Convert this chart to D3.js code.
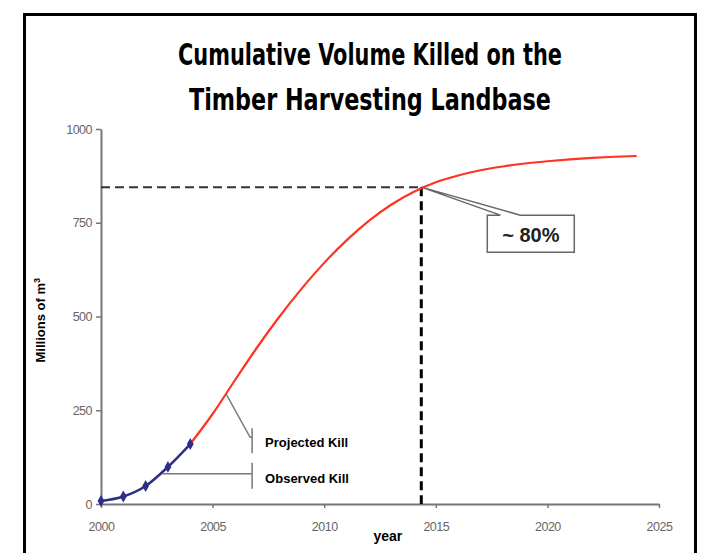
<!DOCTYPE html>
<html>
<head>
<meta charset="utf-8">
<script src="https://cdn.jsdelivr.net/npm/d3@7"></script>
<style>
    html, body { margin: 0; padding: 0; background: #fff; }
    svg { display: block; }
</style>
</head>
<body>
<div id="chart"></div>
<script>
/*global d3: false */

//chart data
var titleLines = ['Cumulative Volume Killed on the', 'Timber Harvesting Landbase'];
var observedYears = [2000, 2001, 2002, 2003, 2004];
var observedValues = [8, 20, 48, 99, 160];
var projectedYears = [2004, 2005, 2006, 2007, 2008, 2009, 2010, 2011, 2012, 2013, 2014,
    2015, 2016, 2017, 2018, 2019, 2020, 2021, 2022, 2023, 2024];
var projectedValues = [160, 240, 330, 418, 500, 575, 643, 703, 755, 798, 832,
    858, 876, 890, 900, 908, 914, 919, 923, 926, 928];
var xTicks = [2000, 2005, 2010, 2015, 2020, 2025];
var yTicks = [0, 250, 500, 750, 1000];
var markYear = 2014.35;
var markValue = 845;
var markLabel = '~ 80%';
var projectedLabel = 'Projected Kill';
var observedLabel = 'Observed Kill';

(function(){
    "use strict";

    var width = 702, height = 553;

    var svg = d3.select('#chart').append('svg')
        .attr('width', width)
        .attr('height', height)
        .style('font-family', 'Arial, "Liberation Sans", sans-serif');

    //frame
    svg.append('rect')
        .attr('x', 24.5).attr('y', 14.5)
        .attr('width', 671).attr('height', 580)
        .attr('fill', 'none')
        .attr('stroke', '#000')
        .attr('stroke-width', 3);

    //title
    var titleWidths = [384, 362];
    svg.append('g').selectAll('text')
        .data(titleLines)
        .enter().append('text')
        .attr('x', 370)
        .attr('y', function(d, i){ return 65 + i * 45; })
        .attr('text-anchor', 'middle')
        .attr('textLength', function(d, i){ return titleWidths[i]; })
        .attr('lengthAdjust', 'spacingAndGlyphs')
        .style('font-family', '"Liberation Sans Narrow", "DejaVu Sans Condensed", "Liberation Sans", sans-serif')
        .style('font-stretch', 'condensed')
        .style('font-weight', 'bold')
        .style('font-size', '31px')
        .style('fill', '#000')
        .text(function(d){ return d; });

    //scales
    var x = d3.scaleLinear().domain([2000, 2025]).range([101, 659]);
    var y = d3.scaleLinear().domain([0, 1000]).range([504, 129]);

    //axes
    var yAxis = svg.append('g')
        .attr('transform', 'translate(' + x(2000) + ',0)')
        .call(d3.axisLeft(y).tickValues(yTicks).tickFormat(d3.format('d'))
            .tickSize(5).tickSizeOuter(0).tickPadding(4));
    var xAxis = svg.append('g')
        .attr('transform', 'translate(0,' + y(0) + ')')
        .call(d3.axisBottom(x).tickValues(xTicks).tickFormat(d3.format('d'))
            .tickSize(4).tickSizeOuter(0).tickPadding(14));
    [xAxis, yAxis].forEach(function(a){
        a.select('.domain').attr('stroke', '#777').attr('stroke-width', 2);
        a.selectAll('.tick line').attr('stroke', '#777').attr('stroke-width', 1.5);
        a.selectAll('.tick text')
            .attr('fill', '#666')
            .style('font-size', '12.5px')
            .style('letter-spacing', '-0.5px');
    });

    //axis titles
    svg.append('text')
        .attr('x', x(2012.85)).attr('y', 541)
        .attr('text-anchor', 'middle')
        .style('font-weight', 'bold')
        .style('font-size', '14px')
        .text('year');

    var yTitle = svg.append('text')
        .attr('transform', 'translate(45,' + y(490) + ') rotate(-90)')
        .attr('text-anchor', 'middle')
        .style('font-weight', 'bold')
        .style('font-size', '13px');
    yTitle.append('tspan').text('Millions of m');
    yTitle.append('tspan').attr('dy', -5).style('font-size', '9px').text('3');

    //reference lines at ~80%
    svg.append('line')
        .attr('x1', x(2000)).attr('x2', x(markYear))
        .attr('y1', y(markValue)).attr('y2', y(markValue))
        .attr('stroke', '#333').attr('stroke-width', 2)
        .attr('stroke-dasharray', '9,5');
    svg.append('line')
        .attr('x1', x(markYear)).attr('x2', x(markYear))
        .attr('y1', y(markValue)).attr('y2', y(0))
        .attr('stroke', '#000').attr('stroke-width', 3)
        .attr('stroke-dasharray', '9,5');

    //series
    var projected = projectedYears.map(function(d, i){ return [d, projectedValues[i]]; });
    var observed = observedYears.map(function(d, i){ return [d, observedValues[i]]; });

    var line = d3.line()
        .x(function(d){ return x(d[0]); })
        .y(function(d){ return y(d[1]); })
        .curve(d3.curveMonotoneX);

    svg.append('path')
        .datum(projected)
        .attr('d', line)
        .attr('fill', 'none')
        .attr('stroke', '#ff3322')
        .attr('stroke-width', 2.2);

    svg.append('path')
        .datum(observed)
        .attr('d', line)
        .attr('fill', 'none')
        .attr('stroke', '#2e2e86')
        .attr('stroke-width', 2.5);

    svg.append('g').selectAll('path')
        .data(observed)
        .enter().append('path')
        .attr('transform', function(d){ return 'translate(' + x(d[0]) + ',' + y(d[1]) + ')'; })
        .attr('d', d3.symbol().type(d3.symbolDiamond).size(40))
        .attr('fill', '#2e2e86');

    //linear lookup on a series
    function valueAt(series, yr){
        for(var i = 1; i < series.length; i++){
            if(yr <= series[i][0]){
                var t = (yr - series[i - 1][0]) / (series[i][0] - series[i - 1][0]);
                return series[i - 1][1] + t * (series[i][1] - series[i - 1][1]);
            }
        }
        return series[series.length - 1][1];
    }

    var calloutColor = '#777';
    var bracketX = x(2006.77);
    var labelX = bracketX + 13;

    //projected kill callout
    var pYear = 2005.6;
    var pY = y(valueAt(projected, pYear));
    var pElbow = y(178);
    svg.append('polyline')
        .attr('points', [[x(pYear), pY], [bracketX - 2, pElbow], [bracketX, pElbow]].join(' '))
        .attr('fill', 'none').attr('stroke', calloutColor).attr('stroke-width', 1.5);
    svg.append('line')
        .attr('x1', bracketX).attr('x2', bracketX)
        .attr('y1', pElbow - 9).attr('y2', pElbow + 16)
        .attr('stroke', calloutColor).attr('stroke-width', 1.5);
    svg.append('text')
        .attr('x', labelX).attr('y', pElbow + 10)
        .style('font-weight', 'bold').style('font-size', '13px')
        .text(projectedLabel);

    //observed kill callout
    var oYear = 2002.75;
    var oY = y(valueAt(observed, oYear)) + 2;
    svg.append('line')
        .attr('x1', x(oYear)).attr('x2', bracketX)
        .attr('y1', oY).attr('y2', oY)
        .attr('stroke', calloutColor).attr('stroke-width', 1.5);
    svg.append('line')
        .attr('x1', bracketX).attr('x2', bracketX)
        .attr('y1', oY - 11).attr('y2', oY + 15)
        .attr('stroke', calloutColor).attr('stroke-width', 1.5);
    svg.append('text')
        .attr('x', labelX).attr('y', oY + 9)
        .style('font-weight', 'bold').style('font-size', '13px')
        .text(observedLabel);

    //~80% callout box with pointer
    var mx = x(markYear), my = y(markValue);
    var bx0 = mx + 66, bx1 = mx + 153, by0 = my + 28, by1 = my + 65;
    var box = [[bx0, by0], [mx + 79, by0], [mx, my], [mx + 99, by0],
        [bx1, by0], [bx1, by1], [bx0, by1]];
    svg.append('path')
        .attr('d', 'M' + box.join('L') + 'Z')
        .attr('fill', '#fff')
        .attr('stroke', '#666')
        .attr('stroke-width', 1.5);
    svg.append('text')
        .attr('x', (bx0 + bx1) / 2).attr('y', by1 - 10)
        .attr('text-anchor', 'middle')
        .style('font-weight', 'bold').style('font-size', '20px')
        .style('fill', '#222')
        .text(markLabel);
})();
</script>
</body>
</html>
